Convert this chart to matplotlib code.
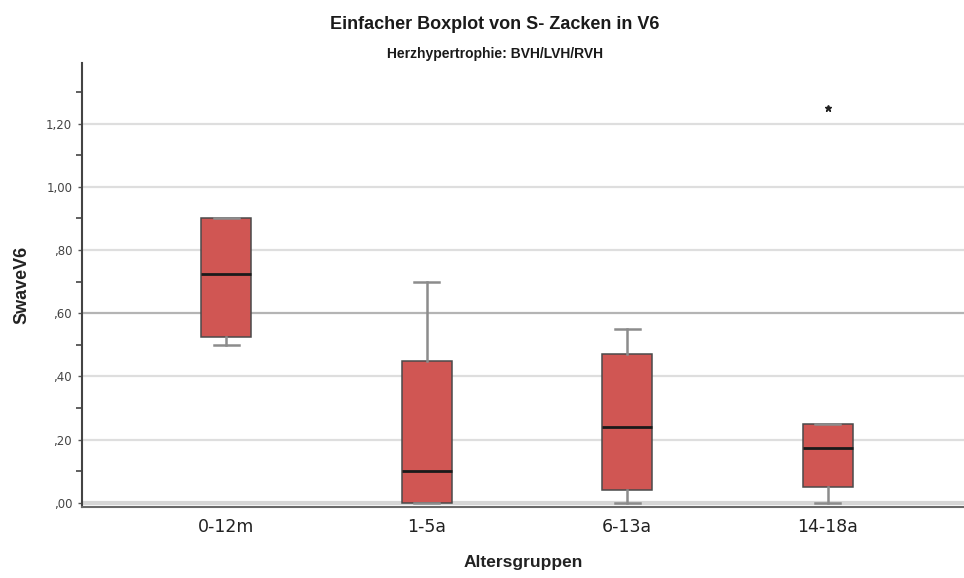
import matplotlib.pyplot as plt
import matplotlib.ticker as mticker

# Altersgruppen und Kennwerte der S-Zacke in V6
gruppen = ['0-12m', '1-5a', '6-13a', '14-18a']
q1 = [0.525, 0.00, 0.04, 0.05]
median = [0.725, 0.10, 0.24, 0.175]
q3 = [0.90, 0.45, 0.47, 0.25]
whisker_unten = [0.50, 0.00, 0.00, 0.00]
whisker_oben = [0.90, 0.70, 0.55, 0.25]
ausreisser = [[], [], [], [1.25]]

yticks = [0.0, 0.2, 0.4, 0.6, 0.8, 1.0, 1.2]
ytick_labels = [',00', ',20', ',40', ',60', ',80', '1,00', '1,20']

stats = []
for i in range(len(gruppen)):
    stats.append({'label': gruppen[i], 'q1': q1[i], 'med': median[i], 'q3': q3[i],
                  'whislo': whisker_unten[i], 'whishi': whisker_oben[i],
                  'fliers': ausreisser[i]})

fig = plt.figure(figsize=(9.64, 5.78), dpi=100)
ax = fig.add_axes([0.085, 0.123, 0.915, 0.768])

# Gitterlinien
for t in yticks[1:]:
    col = '#b4b4b4' if t == 0.6 else '#dedede'
    ax.axhline(t, color=col, lw=1.6, zorder=0)
ax.axhline(0, color='#d6d6d6', lw=3, zorder=0)

pos = list(range(len(gruppen)))
ax.bxp(stats, positions=pos, widths=0.25, capwidths=0.125, patch_artist=True,
       boxprops=dict(facecolor='#d05653', edgecolor='#4a4a4a', linewidth=1.1),
       medianprops=dict(color='#1a1a1a', linewidth=2.0),
       whiskerprops=dict(color='#8c8c8c', linewidth=1.8),
       capprops=dict(color='#8c8c8c', linewidth=1.8),
       flierprops=dict(marker='*', markersize=5, markerfacecolor='#222222',
                       markeredgecolor='#222222', linestyle='none'),
       zorder=3)

ax.set_xlim(-0.72, 3.68)
ax.set_ylim(-0.013, 1.392)

ax.set_yticks(yticks)
ax.set_yticklabels(ytick_labels)
ax.yaxis.set_minor_locator(mticker.FixedLocator([0.1, 0.3, 0.5, 0.7, 0.9, 1.1, 1.3]))
ax.tick_params(axis='y', which='major', length=3, width=1, color='#555555',
               labelsize=8.5, labelcolor='#444444', pad=4)
ax.tick_params(axis='y', which='minor', length=4, width=1.2, color='#444444')
ax.tick_params(axis='x', length=0, labelsize=12.5, labelcolor='#222222', pad=8)
ax.set_xticks(pos)
ax.set_xticklabels(gruppen)

for s in ['top', 'right']:
    ax.spines[s].set_visible(False)
ax.spines['left'].set_color('#444444')
ax.spines['left'].set_linewidth(1.5)
ax.spines['bottom'].set_color('#6a6a6a')
ax.spines['bottom'].set_linewidth(1.5)

ax.set_xlabel('Altersgruppen', fontsize=12.5, fontweight='bold',
              family='Liberation Sans', labelpad=14, color='#222222')
ax.set_ylabel('SwaveV6', fontsize=13, fontweight='bold',
              family='Liberation Sans', labelpad=11, color='#222222')

fig.text(0.513, 0.958, 'Einfacher Boxplot von S- Zacken in V6', ha='center', va='center',
         fontsize=13, fontweight='bold', family='Liberation Sans', color='#1a1a1a')
fig.text(0.513, 0.907, 'Herzhypertrophie: BVH/LVH/RVH', ha='center', va='center',
         fontsize=10, fontweight='bold', family='Liberation Sans', color='#1a1a1a')

fig.savefig('out.png', dpi=100)
